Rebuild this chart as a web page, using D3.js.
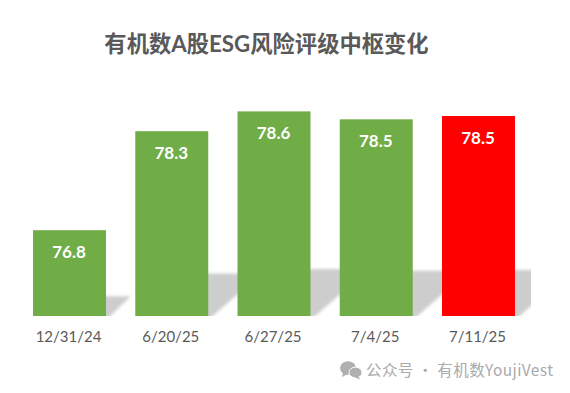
<!DOCTYPE html>
<html>
<head>
<meta charset="utf-8">
<script src="https://d3js.org/d3.v7.min.js"></script>
<style>
    html, body { margin: 0; padding: 0; background: #fff; }
    svg { display: block; }
</style>
</head>
<body>
<div id="chart"></div>
<script>
const title = "有机数A股ESG风险评级中枢变化";
const watermark = "公众号 · 有机数YoujiVest";
const dates = ["12/31/24", "6/20/25", "6/27/25", "7/4/25", "7/11/25"];
const values = [76.8, 78.3, 78.6, 78.48, 78.53];
const barColors = ["#70ad47", "#70ad47", "#70ad47", "#70ad47", "#ff0000"];

const latinCjk = "Lato, 'Noto Sans CJK SC', sans-serif";
const width = 570, height = 393;
const baseY = 316;

const svg = d3.select("#chart").append("svg")
    .attr("width", width)
    .attr("height", height);

const x = d3.scaleBand().domain(dates).range([18.4, 529.6]).paddingInner(0.286).paddingOuter(0.143);
const y = d3.scaleLinear().domain([75.5, 79]).range([baseY, 85]);

const defs = svg.append("defs");
defs.append("filter").attr("id", "shadowBlur")
    .attr("x", "-10%").attr("y", "-20%").attr("width", "120%").attr("height", "140%")
    .append("feGaussianBlur").attr("stdDeviation", 1.8);
// the plot area cuts the shadows off on the right and below the axis
defs.append("clipPath").attr("id", "plotClip")
    .append("rect").attr("x", 0).attr("y", 0).attr("width", 531).attr("height", baseY);

// perspective shadows behind the bars
const shadowShape = (d, i) => {
    const h = (baseY - y(d)) * 0.23;
    const skew = h * 1.25;
    const x0 = x(dates[i]), x1 = x0 + x.bandwidth();
    return d3.line()([[x0, baseY + 4], [x1, baseY + 4], [x1 + skew, baseY - h], [x0 + skew, baseY - h]]);
};

svg.append("g").attr("clip-path", "url(#plotClip)")
    .selectAll("path").data(values).join("path")
    .attr("d", shadowShape)
    .attr("fill", "#cdcdcd")
    .attr("filter", "url(#shadowBlur)");

svg.append("g").selectAll("rect").data(values).join("rect")
    .attr("x", (d, i) => x(dates[i]))
    .attr("y", d => y(d))
    .attr("width", x.bandwidth())
    .attr("height", d => baseY - y(d))
    .attr("fill", (d, i) => barColors[i]);

svg.append("g").selectAll("text").data(values).join("text")
    .attr("x", (d, i) => x(dates[i]) + x.bandwidth() / 2 - 0.5)
    .attr("y", d => y(d) + 28)
    .attr("text-anchor", "middle")
    .style("font-family", latinCjk)
    .style("font-size", "17px")
    .style("font-weight", "bold")
    .style("fill", "#fff")
    .text(d => d.toFixed(1));

const axis = svg.append("g")
    .attr("transform", "translate(0," + baseY + ")")
    .call(d3.axisBottom(x).tickSize(0).tickPadding(15));
axis.select(".domain").remove();
axis.selectAll("text")
    .attr("dx", -1)
    .style("font-family", latinCjk)
    .style("font-size", "15px")
    .style("fill", "#595959");

svg.append("text")
    .attr("x", 266.5)
    .attr("y", 52)
    .attr("text-anchor", "middle")
    .style("font-family", latinCjk)
    .style("font-size", "22.3px")
    .style("font-weight", "bold")
    .style("fill", "#595959")
    .text(title);

// WeChat style icon in front of the watermark
const icon = svg.append("g").attr("transform", "translate(340,361)").attr("fill", "#b0b0b0");
icon.append("ellipse").attr("cx", 8).attr("cy", 7).attr("rx", 8).attr("ry", 6.8);
icon.append("path").attr("d", "M3 11 L2 16 L8 13 Z");
icon.append("ellipse").attr("cx", 15.5).attr("cy", 11.5).attr("rx", 6.5).attr("ry", 5.4)
    .attr("stroke", "#fff").attr("stroke-width", 1);
icon.append("path").attr("d", "M18 15 L20 18.5 L15 16.5 Z");

svg.append("text")
    .attr("x", 366)
    .attr("y", 375.5)
    .attr("textLength", 187)
    .attr("lengthAdjust", "spacing")
    .style("font-family", "'Noto Sans CJK SC', sans-serif")
    .style("font-size", "15.5px")
    .style("fill", "#aaaaaa")
    .text(watermark);
</script>
</body>
</html>
